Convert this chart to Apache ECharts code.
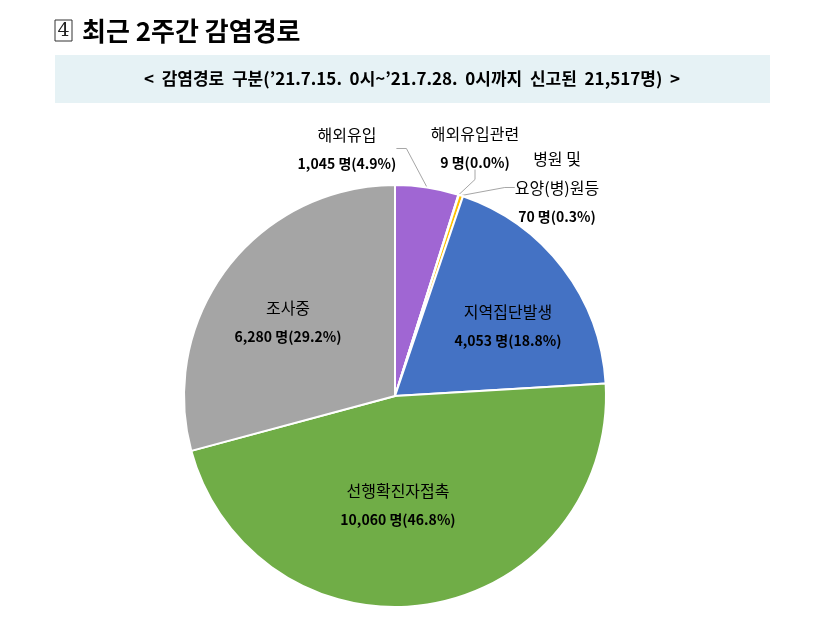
<!DOCTYPE html>
<html>
<head>
<meta charset="utf-8">
<script src="https://cdn.jsdelivr.net/npm/echarts@6/dist/echarts.min.js"></script>
<style>
    html, body { margin: 0; padding: 0; background: #fff; }
    #chart { width: 817px; height: 631px; }
</style>
</head>
<body>
<div id="chart"></div>
<script>
// 감염경로 구분 (21.7.15 ~ 21.7.28)
var categories = ['해외유입', '해외유입관련', '병원 및\n요양(병)원등', '지역집단발생', '선행확진자접촉', '조사중'];
var counts = [1045, 9, 70, 4053, 10060, 6280];
var sliceColors = ['#A066D3', '#ED7D31', '#FFC000', '#4472C4', '#70AD47', '#A5A5A5'];
var titleText = '최근 2주간 감염경로';
var subTitleText = "<  감염경로  구분(’21.7.15.  0시~’21.7.28.  0시까지  신고된  21,517명)  >";

var total = 0;
for (var i = 0; i < counts.length; i++) total += counts[i];

function fmtNum(n) {
    return n.toString().replace(/\B(?=(\d{3})+(?!\d))/g, ',');
}

var pieData = [];
for (var i = 0; i < categories.length; i++) {
    var outside = i < 3;
    pieData.push({
        name: categories[i],
        value: counts[i],
        itemStyle: { color: sliceColors[i] },
        label: { position: outside ? 'outside' : 'inside' },
        labelLine: { show: outside }
    });
}

// 라벨 위치 (중심 좌표)
var labelPos = [
    [347, 149],
    [475, 148],
    [557, 188],
    [508, 326],
    [398, 505],
    [288, 322]
];

var myChart = echarts.init(document.getElementById('chart'));
var option = {
    backgroundColor: '#fff',
    animation: false,
    graphic: [
        {
            type: 'rect',
            shape: { x: 55, y: 20, width: 17, height: 21 },
            style: { fill: '#fff', stroke: '#333', lineWidth: 1 }
        },
        {
            type: 'text',
            x: 63.5, y: 31,
            style: { text: '4', font: '19px "DejaVu Serif", serif', fill: '#222', align: 'center', verticalAlign: 'middle' }
        },
        {
            type: 'text',
            x: 82, y: 31,
            style: { text: titleText, font: 'bold 26px "Noto Sans CJK KR"', fill: '#000', verticalAlign: 'middle' }
        },
        {
            type: 'rect',
            shape: { x: 55, y: 55, width: 715, height: 48 },
            style: { fill: '#E6F2F5' }
        },
        {
            type: 'text',
            x: 412, y: 79,
            style: { text: subTitleText, font: 'bold 17px "Noto Sans CJK KR"', fill: '#000', align: 'center', verticalAlign: 'middle' }
        }
    ],
    series: [{
        type: 'pie',
        center: [395, 396],
        radius: 211,
        startAngle: 90,
        clockwise: true,
        data: pieData,
        itemStyle: {
            borderColor: '#fff',
            borderWidth: 2
        },
        label: {
            formatter: function(p) {
                var pct = (p.value / total * 100).toFixed(1);
                return '{n|' + p.name + '}\n{v|' + fmtNum(p.value) + ' 명(' + pct + '%)}';
            },
            rich: {
                n: { fontFamily: 'Noto Sans CJK KR', fontSize: 16, color: '#000', lineHeight: 29, align: 'center' },
                v: { fontFamily: 'Noto Sans CJK KR', fontSize: 14, fontWeight: 'bold', color: '#000', lineHeight: 29, align: 'center' }
            }
        },
        labelLine: {
            lineStyle: { color: '#A6A6A6', width: 1 },
            length: 10,
            length2: 10
        },
        labelLayout: function(params) {
            var pos = labelPos[params.dataIndex];
            return {
                x: pos[0],
                y: pos[1],
                align: 'center',
                verticalAlign: 'middle'
            };
        }
    }]
};
myChart.setOption(option);
</script>
</body>
</html>
